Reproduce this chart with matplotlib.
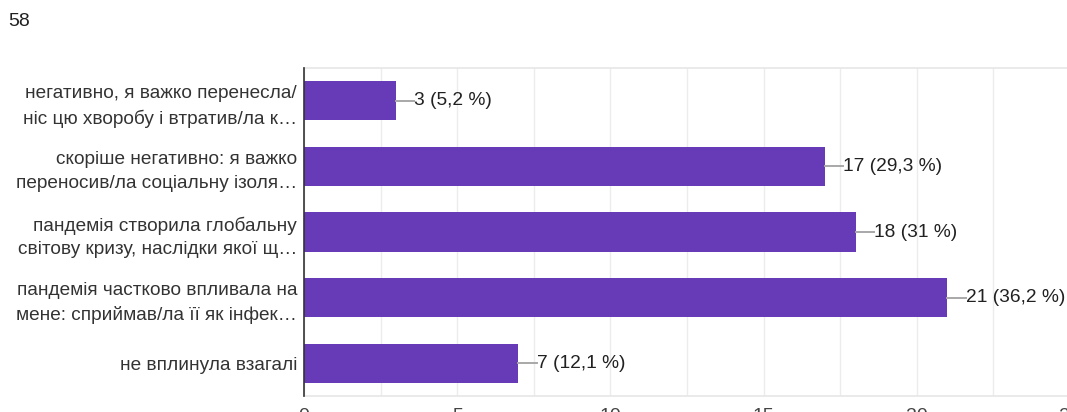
import matplotlib.pyplot as plt
from matplotlib.ticker import MultipleLocator

plt.rcParams['font.family'] = ['Liberation Sans', 'DejaVu Sans']

answers = [
    "негативно, я важко перенесла/\nніс цю хворобу і втратив/ла к…",
    "скоріше негативно: я важко\nпереносив/ла соціальну ізоля…",
    "пандемія створила глобальну\nсвітову кризу, наслідки якої щ…",
    "пандемія частково впливала на\nмене: сприймав/ла її як інфек…",
    "не вплинула взагалі",
]
counts = [3, 17, 18, 21, 7]
percents = ["5,2", "29,3", "31", "36,2", "12,1"]
total = 58
xticks = [0, 5, 10, 15, 20, 25]

fig = plt.figure(figsize=(10.67, 4.12), dpi=100)
ax = fig.add_axes([304 / 1067, 16 / 412, 766 / 1067, 328 / 412])

y = list(range(len(answers)))
ax.barh(y, counts, height=0.6, color='#673ab7', zorder=3)

# value labels with a short leader line
for yi, c, p in zip(y, counts, percents):
    ax.plot([c, c + 0.6], [yi, yi], color='#a8a8a8', lw=1.4, zorder=3,
            clip_on=False)
    ax.text(c + 0.6, yi, f"{c} ({p} %)", va='center', ha='left',
            fontsize=13.8, color='#212121', clip_on=False)

ax.set_ylim(len(answers) - 0.5, -0.5)
ax.set_xlim(0, 25)
ax.set_yticks(y)
ax.set_yticklabels(answers, fontsize=13.7, color='#333333', linespacing=1.5)
ax.set_xticks(xticks)
ax.set_xticklabels([str(t) for t in xticks], fontsize=14, color='#444444')
ax.xaxis.set_minor_locator(MultipleLocator(2.5))
ax.tick_params(axis='both', which='both', length=0)
ax.tick_params(axis='x', pad=8.5)
ax.tick_params(axis='y', pad=5)

ax.grid(axis='x', which='both', color='#ececec', lw=1, zorder=0)
for side in ['top', 'bottom']:
    ax.spines[side].set_color('#e6e6e6')
    ax.spines[side].set_linewidth(1.2)
ax.spines['right'].set_visible(False)
ax.spines['left'].set_color('#333333')
ax.spines['left'].set_linewidth(1.2)
ax.spines['left'].set_zorder(4)

fig.text(8 / 1067, 1 - 22 / 412, str(total), fontsize=14, color='#212121',
         va='center', ha='left')

fig.savefig('out.png', dpi=100)
